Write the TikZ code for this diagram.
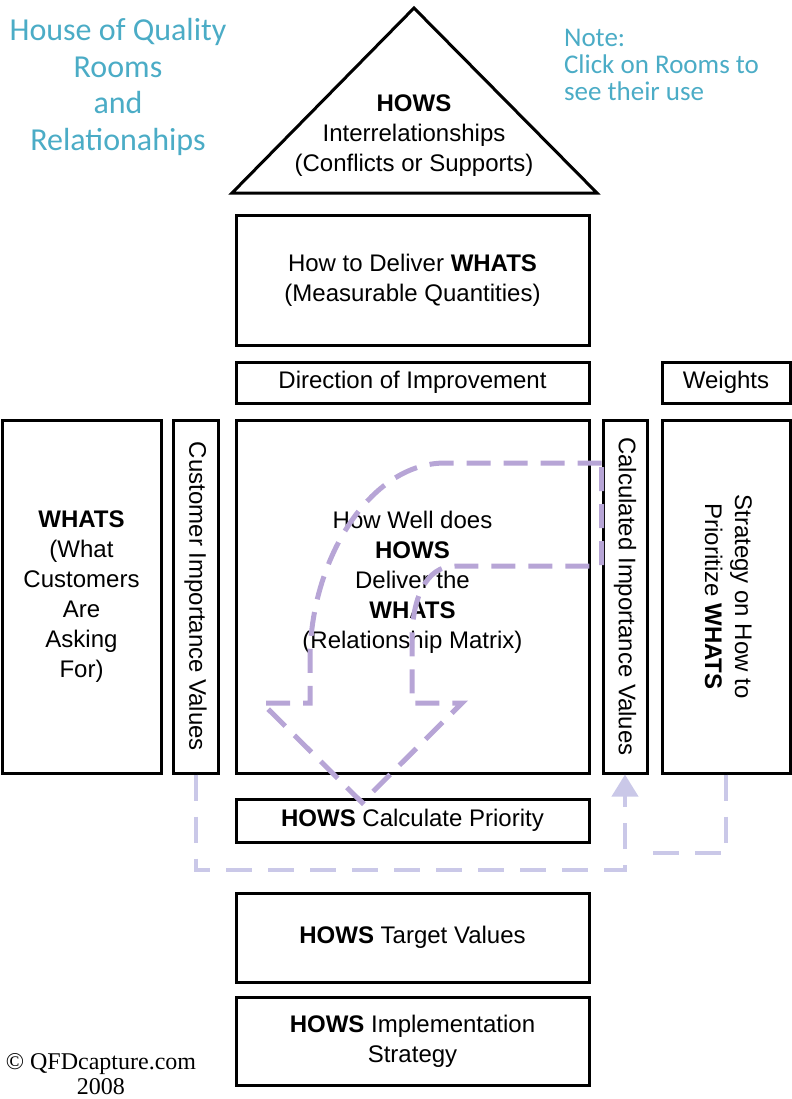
\documentclass[tikz,border=0pt]{standalone}
\usepackage{fontspec}
\usepackage{graphicx}
\usepackage{xcolor}
\usepackage{tikz}
\usetikzlibrary{shapes,arrows.meta}

\setmainfont{Liberation Sans}
\newfontfamily\titlefont{Carlito}
\newfontfamily\creditfont{Liberation Serif}

\definecolor{titleblue}{HTML}{4BACC6}
\definecolor{flowlav}{RGB}{183,165,214}
\definecolor{looplav}{RGB}{202,200,232}

\begin{document}
\begin{tikzpicture}[
    x=0.5pt, y=-0.5pt,
    every node/.style={font=\fontsize{12pt}{15pt}\selectfont},
    room/.style={
        rectangle,
        draw,
        line width=1.5pt,
        inner sep=0pt,
        align=center,
        minimum width=176.5pt
    },
    title/.style={
        text=titleblue,
        align=center,
        font=\titlefont\fontsize{16pt}{18.3pt}\selectfont
    },
    note/.style={
        text=titleblue,
        align=left,
        anchor=west,
        font=\titlefont\fontsize{13.5pt}{13.5pt}\selectfont
    },
    credit/.style={
        align=center,
        font=\creditfont\fontsize{12pt}{12.5pt}\selectfont
    },
    flow/.style={draw=flowlav, line width=2.5pt, dash pattern=on 12pt off 6.5pt, line join=miter},
    feedback/.style={draw=looplav, line width=2pt, dash pattern=on 13pt off 8pt}
]
\useasboundingbox (0,0) rectangle (792,1099);

% Captions
\node[title] (hoq) at (118,87) {House of Quality\\Rooms\\and\\Relationahips};
\node[note] (note) at (557,65) {Note:\\Click on Rooms to\\see their use};
\node[credit] (copy) at (101,1074) {\textcopyright\ QFDcapture.com\\2008};

% Roof
\draw[line width=1.5pt, line join=miter] (232,193) -- (414,8) -- (597,193) -- cycle;
\node[align=center] (roof) at (414,136) {\textbf{HOWS}\\Interrelationships\\(Conflicts or Supports)};

% Rooms
\node[room, minimum height=65pt] (deliver) at (412.5,280)
{How to Deliver \textbf{WHATS}\\(Measurable Quantities)};
\node[room, minimum height=20.5pt] (direction) at (412.5,382.5)
{Direction of Improvement};
\node[room, minimum width=64pt, minimum height=20.5pt] (weights) at (726,382.5)
{Weights};

\node[room, minimum width=79.5pt, minimum height=176.5pt] (whats) at (81.5,596.5)
{\textbf{WHATS}\\(What\\Customers\\Are\\Asking\\For)};
\node[room, minimum width=22.5pt, minimum height=176.5pt] (customer) at (195.5,596.5)
{\rotatebox{-90}{Customer Importance Values}};
\node[room, minimum height=176.5pt] (matrix) at (412.5,596.5) {};
\node[align=center] (matrixtext) at (412.5,582)
{How Well does\\\textbf{HOWS}\\Deliver the\\\textbf{WHATS}\\(Relationship Matrix)};
\node[room, minimum width=22pt, minimum height=176.5pt] (calc) at (625,596.5)
{\rotatebox{-90}{Calculated Importance Values}};
\node[room, minimum width=64pt, minimum height=176.5pt] (strategy) at (726,596.5)
{\rotatebox{-90}{\begin{tabular}{@{}c@{}}Strategy on How to\\Prioritize \textbf{WHATS}\end{tabular}}};

\node[room, minimum height=21.5pt] (priority) at (412.5,820.5)
{\textbf{HOWS} Calculate Priority};
\node[room, minimum height=44.5pt] (target) at (412.5,937.5)
{\textbf{HOWS} Target Values};
\node[room, minimum height=44pt] (impl) at (412.5,1041)
{\textbf{HOWS} Implementation\\Strategy};

% Arrows
\coordinate (tip) at (priority.north -| 362,0);
\draw[flow] (calc.west |- 0,463) -- (445,463)
    .. controls (370,463) and (310,560) .. (310,660) -- (310,703)
    -- (262,703) -- ([yshift=-2.5pt]tip) -- (462,703) -- (412,703) -- (412,640)
    .. controls (412,600) and (425,566) .. (455,566) -- (calc.west |- 0,566) -- cycle;

\coordinate (loopy) at (0,870);
\coordinate (joinR) at (638,853);
\draw[feedback, -{Triangle[width=13pt,length=11pt]}] (customer.south)
    -- (customer.south |- loopy) -- (calc.south |- loopy) -- (calc.south);
\draw[feedback] (strategy.south) -- (strategy.south |- joinR) -- (joinR);

\end{tikzpicture}
\end{document}
